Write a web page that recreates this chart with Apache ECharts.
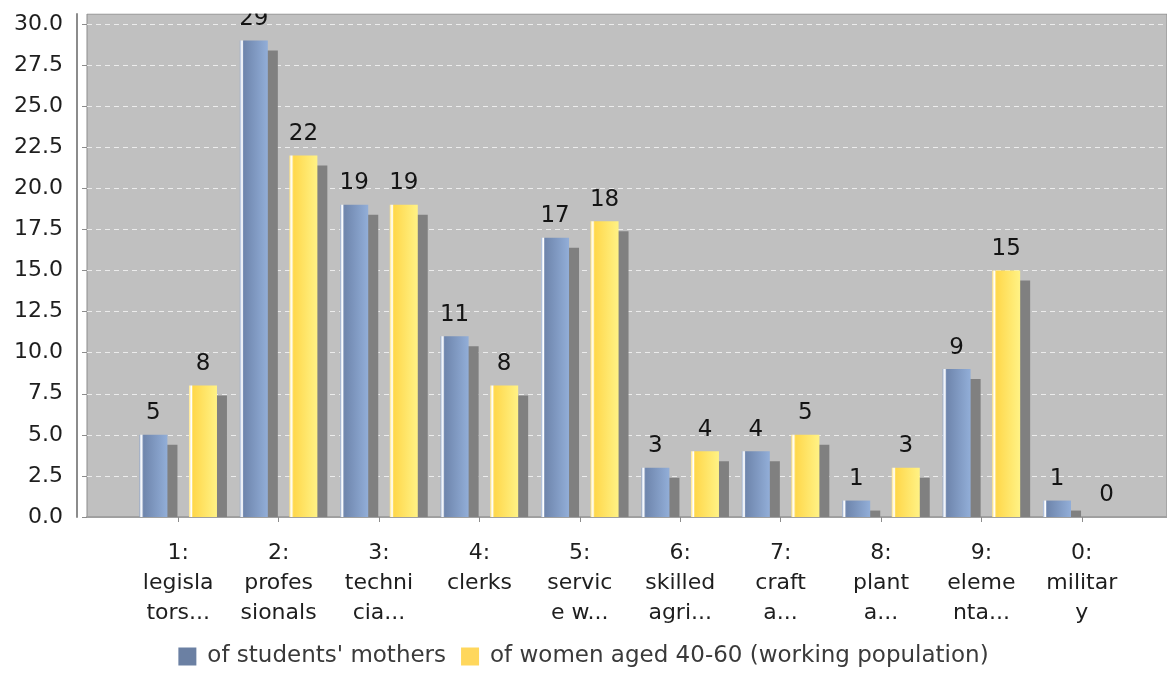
<!DOCTYPE html>
<html>
<head>
<meta charset="utf-8">
<script src="https://cdn.jsdelivr.net/npm/echarts@6/dist/echarts.min.js"></script>
<style>
html,body{margin:0;padding:0;background:#fff;}
#chart{width:1167px;height:677px;}
</style>
</head>
<body>
<div id="chart"></div>
<script>
var categories = ['1:\nlegisla\ntors...', '2:\nprofes\nsionals', '3:\ntechni\ncia...', '4:\nclerks', '5:\nservic\ne w...', '6:\nskilled\nagri...', '7:\ncraft\na...', '8:\nplant\na...', '9:\neleme\nnta...', '0:\nmilitar\ny'];
var seriesNames = ["of students' mothers", "of women aged 40-60 (working population)"];
var mothers = [5, 29, 19, 11, 17, 3, 4, 1, 9, 1];
var women = [8, 22, 19, 8, 18, 4, 5, 3, 15, 0];
var yMin = 0, yMax = 30, yStep = 2.5;

var FONT = 'DejaVu Sans';
var BAR_W = 28;
var HALF = 24.75;

function shadowRender(offset) {
  return function (params, api) {
    var i = api.value(0), v = api.value(1);
    var top = api.coord([i, v]);
    var base = api.coord([i, 0]);
    var x = top[0] + offset - BAR_W / 2 + 10;
    var y = top[1] + 10;
    var h = base[1] - y;
    if (h <= 0) return null;
    return { type: 'rect', shape: { x: x, y: y, width: BAR_W, height: h }, style: { fill: '#808080' } };
  };
}

function grad(stops) {
  return new echarts.graphic.LinearGradient(0, 0, 1, 0, stops);
}
var blueGrad = grad([
  { offset: 0, color: '#8ea3c6' },
  { offset: 0.04, color: '#dfe7f3' },
  { offset: 0.09, color: '#ffffff' },
  { offset: 0.13, color: '#7a90b6' },
  { offset: 0.16, color: '#6f86ad' },
  { offset: 1, color: '#92aed8' }
]);
var yellowGrad = grad([
  { offset: 0, color: '#ffe27a' },
  { offset: 0.04, color: '#fff4c8' },
  { offset: 0.09, color: '#ffffff' },
  { offset: 0.13, color: '#ffe066' },
  { offset: 0.16, color: '#ffd84c' },
  { offset: 1, color: '#fff285' }
]);

var chart = echarts.init(document.getElementById('chart'), null, { renderer: 'canvas' });
var option = {
  animation: false,
  backgroundColor: '#ffffff',
  textStyle: { fontFamily: FONT },
  grid: [
    { left: 87, top: 14, right: 0, bottom: 160, show: true, backgroundColor: '#c0c0c0', borderColor: '#8c8c8c', borderWidth: 1, containLabel: false },
    { left: 87, top: 24, right: 0, bottom: 160, containLabel: false },
    { left: 128, top: 24, right: 35, bottom: 160, containLabel: false }
  ],
  xAxis: [
    { gridIndex: 0, type: 'category', data: [''], offset: 10,
      axisLine: { show: true, lineStyle: { color: '#a0a0a0', width: 2 } },
      axisTick: { show: false }, axisLabel: { show: false }, splitLine: { show: false } },
    { gridIndex: 1, type: 'value', show: false },
    { gridIndex: 2, type: 'category', data: categories, offset: 10,
      axisLine: { show: false },
      axisTick: { show: true, alignWithLabel: true, length: 5, lineStyle: { color: '#8c8c8c', width: 1 } },
      axisLabel: { interval: 0, margin: 11, fontSize: 22, lineHeight: 30, color: '#1e1e1e', fontFamily: FONT },
      splitLine: { show: false } }
  ],
  yAxis: [
    { gridIndex: 0, type: 'value', min: 0, max: 1, offset: 10,
      axisLine: { show: true, lineStyle: { color: '#8c8c8c', width: 2 } },
      axisTick: { show: false }, axisLabel: { show: false }, splitLine: { show: false } },
    { gridIndex: 1, type: 'value', min: yMin, max: yMax, interval: yStep, offset: 10,
      axisLine: { show: false },
      axisTick: { show: true, length: 5, lineStyle: { color: '#8c8c8c', width: 1 } },
      axisLabel: { margin: 14, fontSize: 22, color: '#1e1e1e', fontFamily: FONT,
        formatter: function (v) { return v.toFixed(1); } },
      splitLine: { show: true, lineStyle: { color: '#ececec', type: [5, 4], width: 1 } } },
    { gridIndex: 2, type: 'value', min: yMin, max: yMax, show: false, splitLine: { show: false } }
  ],
  legend: {
    bottom: 4,
    left: 'center',
    icon: 'rect',
    itemWidth: 18,
    itemHeight: 18,
    itemGap: 15,
    textStyle: { fontSize: 23, color: '#3a3a3a', fontFamily: FONT, padding: [0, 0, 0, 6] },
    data: [
      { name: seriesNames[0], itemStyle: { color: '#6b80a3' } },
      { name: seriesNames[1], itemStyle: { color: '#ffd75c' } }
    ]
  },
  series: [
    { type: 'custom', name: 'shadow0', xAxisIndex: 2, yAxisIndex: 2, z: 1, silent: true,
      renderItem: shadowRender(-HALF), data: mothers.map(function (v, i) { return [i, v]; }), encode: { x: 0, y: 1 } },
    { type: 'custom', name: 'shadow1', xAxisIndex: 2, yAxisIndex: 2, z: 1, silent: true,
      renderItem: shadowRender(HALF), data: women.map(function (v, i) { return [i, v]; }), encode: { x: 0, y: 1 } },
    { type: 'bar', name: seriesNames[0], xAxisIndex: 2, yAxisIndex: 2, z: 3, data: mothers,
      barWidth: BAR_W, barGap: '77%',
      itemStyle: { color: blueGrad, borderWidth: 0 },
      label: { show: true, position: 'top', distance: 10, fontSize: 23, color: '#141414', fontFamily: FONT } },
    { type: 'bar', name: seriesNames[1], xAxisIndex: 2, yAxisIndex: 2, z: 3, data: women,
      barWidth: BAR_W, barGap: '77%',
      itemStyle: { color: yellowGrad, borderWidth: 0 },
      label: { show: true, position: 'top', distance: 10, fontSize: 23, color: '#141414', fontFamily: FONT } }
  ],
  graphic: [
    { type: 'rect', z: 100, silent: true, shape: { x: 87, y: 0, width: 1080, height: 13.5 }, style: { fill: '#ffffff' } }
  ]
};
chart.setOption(option);
</script>
</body>
</html>
